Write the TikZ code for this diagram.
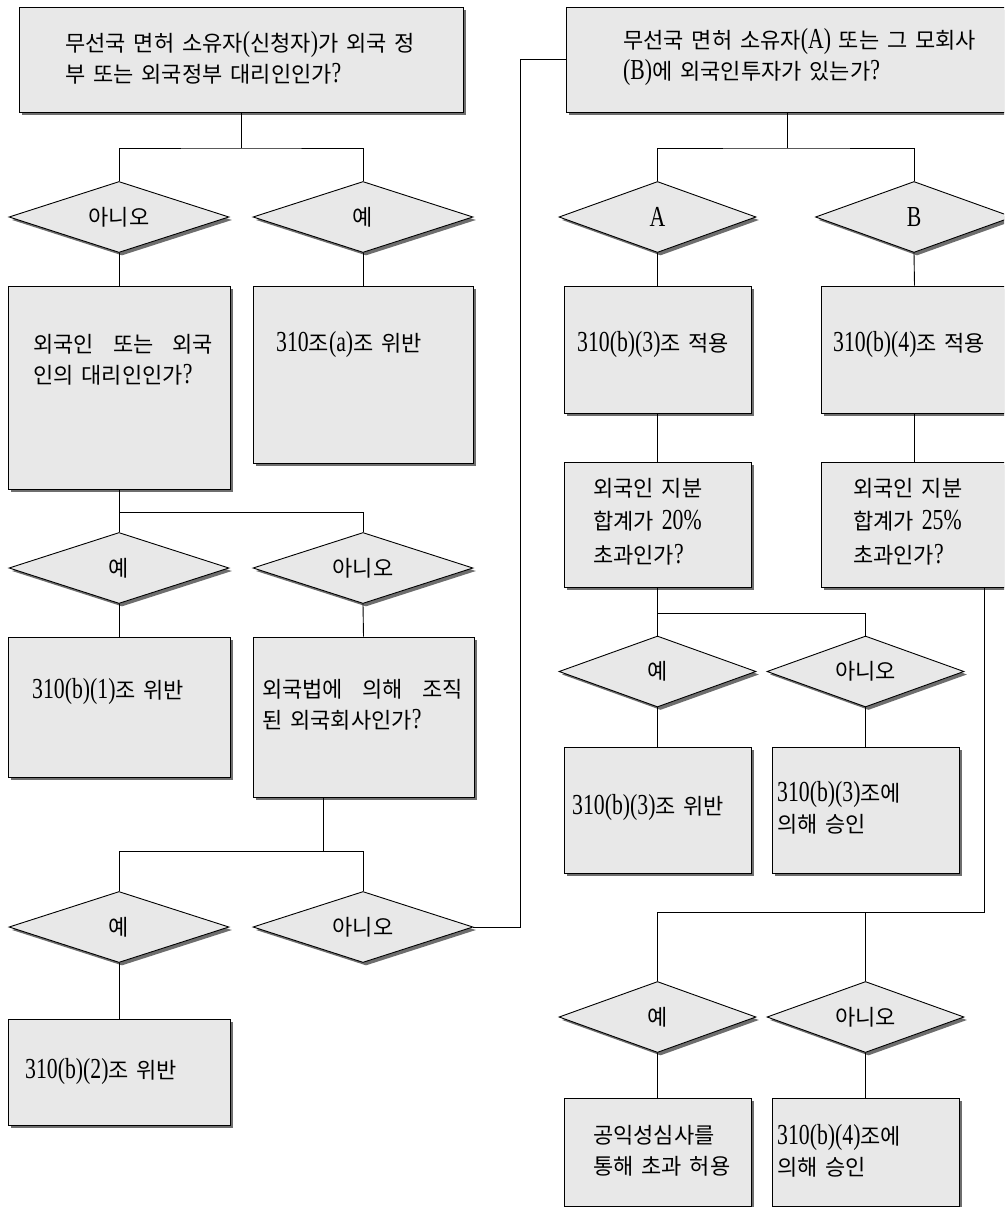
\documentclass[tikz,border=0pt]{standalone}
\usepackage{fontspec}
\usepackage{graphicx}
\newfontfamily\kr[WordSpace=1.6]{Noto Sans CJK KR}
\newfontfamily\latfont{Liberation Serif}
\newcommand\ltn[1]{\scalebox{0.75}[1]{\latfont\fontsize{29}{31}\selectfont #1}}
\usetikzlibrary{shapes.geometric,shadows}
\definecolor{boxfill}{HTML}{E8E8E8}
\definecolor{shd}{HTML}{6E6E6E}
\tikzset{
  shd/.style={drop shadow={shadow xshift=3pt,shadow yshift=-3pt,fill=shd,opacity=1}},
  box/.style={rectangle,draw=black,line width=0.9pt,fill=boxfill,inner sep=0pt,shd},
  dia/.style={diamond,shape aspect=3.1,draw=black,line width=0.9pt,fill=boxfill,inner sep=0pt,
    minimum height=71pt,shd,font=\kr\fontsize{22}{24}\selectfont},
  txt/.style={inner sep=0pt,align=left,anchor=west,font=\kr\fontsize{22}{31}\selectfont},
  txtb/.style={txt,font=\kr\fontsize{22}{33.5}\selectfont},
  conn/.style={draw=black,line width=0.9pt}
}
\begin{document}
\begin{tikzpicture}[x=1pt,y=-1pt]
\useasboundingbox (0,0) rectangle (1004,1207);
\clip (0,0) rectangle (1004,1207);
\fill[white] (0,0) rectangle (1004,1207);

% ---------- left column ----------
\node[box,minimum width=444pt,minimum height=105pt] (q1) at (241,59.5) {};
\node[txt] (q1t) at (65,57.5) {무선국 면허 소유자\ltn{(}신청자\ltn{)}가 외국 정\\부 또는 외국정부 대리인인가\ltn{?}};

\node[dia,minimum width=220pt] (d1) at (119,217) {아니오};
\node[dia,minimum width=220pt] (d2) at (363,217) {예};

\node[box,minimum width=222pt,minimum height=203pt] (b1) at (119,387.5) {};
\node[txt] (b1t) at (33,360) {\makebox[180pt][s]{외국인 또는 외국}\\인의 대리인인가\ltn{?}};

\node[box,minimum width=220pt,minimum height=177pt] (b2) at (363,374.5) {};
\node[txt] (b2t) at (276,345) {\ltn{310}조\ltn{(a)}조 위반};

\node[dia,minimum width=220pt] (d3) at (119,568) {예};
\node[dia,minimum width=220pt] (d4) at (363,568) {아니오};

\node[box,minimum width=222pt,minimum height=140pt] (b3) at (119,707) {};
\node[txt] (b3t) at (32,692) {\ltn{310(b)(1)}조 위반};

\node[box,minimum width=221pt,minimum height=160pt] (b4) at (363.5,717) {};
\node[txt] (b4t) at (262,705) {\makebox[201pt][s]{외국법에 의해 조직}\\된 외국회사인가\ltn{?}};

\node[dia,minimum width=220pt] (d5) at (119,927) {예};
\node[dia,minimum width=220pt] (d6) at (363,927) {아니오};

\node[box,minimum width=222pt,minimum height=106pt] (b5) at (119,1072) {};
\node[txt] (b5t) at (25,1072) {\ltn{310(b)(2)}조 위반};

% ---------- right column ----------
\node[box,minimum width=442pt,minimum height=105pt] (q2) at (787,59.5) {};
\node[txt] (q2t) at (623,57.5) {무선국 면허 소유자\ltn{(A)} 또는 그 모회사\\\ltn{(B)}에 외국인투자가 있는가\ltn{?}};

\node[dia,minimum width=197pt] (dA) at (657.5,217) {\ltn{A}};
\node[dia,minimum width=197pt] (dB) at (914,217) {\ltn{B}};

\node[box,minimum width=187pt,minimum height=127pt] (bA) at (657.5,349.5) {};
\node[txt] (bAt) at (577,345) {\ltn{310(b)(3)}조 적용};
\node[box,minimum width=187pt,minimum height=127pt] (bB) at (914.5,349.5) {};
\node[txt] (bBt) at (833,345) {\ltn{310(b)(4)}조 적용};

\node[box,minimum width=187pt,minimum height=125pt] (bA2) at (657.5,524.5) {};
\node[txtb] (bA2t) at (593,521.5) {외국인 지분\\합계가 \ltn{20\%}\\초과인가\ltn{?}};
\node[box,minimum width=187pt,minimum height=125pt] (bB2) at (914.5,524.5) {};
\node[txtb] (bB2t) at (853,521.5) {외국인 지분\\합계가 \ltn{25\%}\\초과인가\ltn{?}};

\node[dia,minimum width=197pt] (d7) at (657.5,671.5) {예};
\node[dia,minimum width=197pt] (d8) at (865.5,671.5) {아니오};

\node[box,minimum width=187pt,minimum height=126pt] (b6) at (657.5,810) {};
\node[txt] (b6t) at (572,808) {\ltn{310(b)(3)}조 위반};
\node[box,minimum width=187pt,minimum height=126pt] (b7) at (865.5,810) {};
\node[txt] (b7t) at (777,807.5) {\ltn{310(b)(3)}조에\\의해 승인};

\node[dia,minimum width=197pt] (d9) at (657.5,1017) {예};
\node[dia,minimum width=197pt] (d10) at (865.5,1017) {아니오};

\node[box,minimum width=187pt,minimum height=108pt] (b8) at (657.5,1152) {};
\node[txt] (b8t) at (593,1151) {공익성심사를\\통해 초과 허용};
\node[box,minimum width=187pt,minimum height=108pt] (b9) at (865.5,1152) {};
\node[txt] (b9t) at (777,1151) {\ltn{310(b)(4)}조에\\의해 승인};

% ---------- junctions ----------
\coordinate (j1) at (241,148);
\coordinate (j2) at (119,512);
\coordinate (j3) at (323,851);
\coordinate (j4) at (787,148);
\coordinate (j5) at (657.5,613);
\coordinate (j6) at (984,912);

% ---------- connectors ----------
\draw[conn] (q1.south) -- (j1);
\draw[conn] (d1.north) |- (j1) -| (d2.north);
\draw[conn] (d1.south) -- (b1.north);
\draw[conn] (d2.south) -- (b2.north);
\draw[conn] (b1.south) -- (d3.north);
\draw[conn] (j2) -| (d4.north);
\draw[conn] (d3.south) -- (b3.north);
\draw[conn] (d4.south) -- (b4.north);
\draw[conn] (b4.south -| j3) -- (j3);
\draw[conn] (d5.north) |- (j3) -| (d6.north);
\draw[conn] (d5.south) -- (b5.north);
\draw[conn] (d6.east) -- ++(47,0) |- (q2.west);

\draw[conn] (q2.south) -- (j4);
\draw[conn] (dA.north) |- (j4) -| (dB.north);
\draw[conn] (dA.south) -- (bA.north);
\draw[conn] (bA.south) -- (bA2.north);
\draw[conn] (dB.south) -- (bB.north);
\draw[conn] (bB.south) -- (bB2.north);
\draw[conn] (bA2.south) -- (d7.north);
\draw[conn] (j5) -| (d8.north);
\draw[conn] (d7.south) -- (b6.north);
\draw[conn] (d8.south) -- (b7.north);
\draw[conn] (bB2.south -| j6) -- (j6) -| (d9.north);
\draw[conn] (d10.north) -- (d10.north |- j6);
\draw[conn] (d9.south) -- (b8.north);
\draw[conn] (d10.south) -- (b9.north);
\end{tikzpicture}
\end{document}
